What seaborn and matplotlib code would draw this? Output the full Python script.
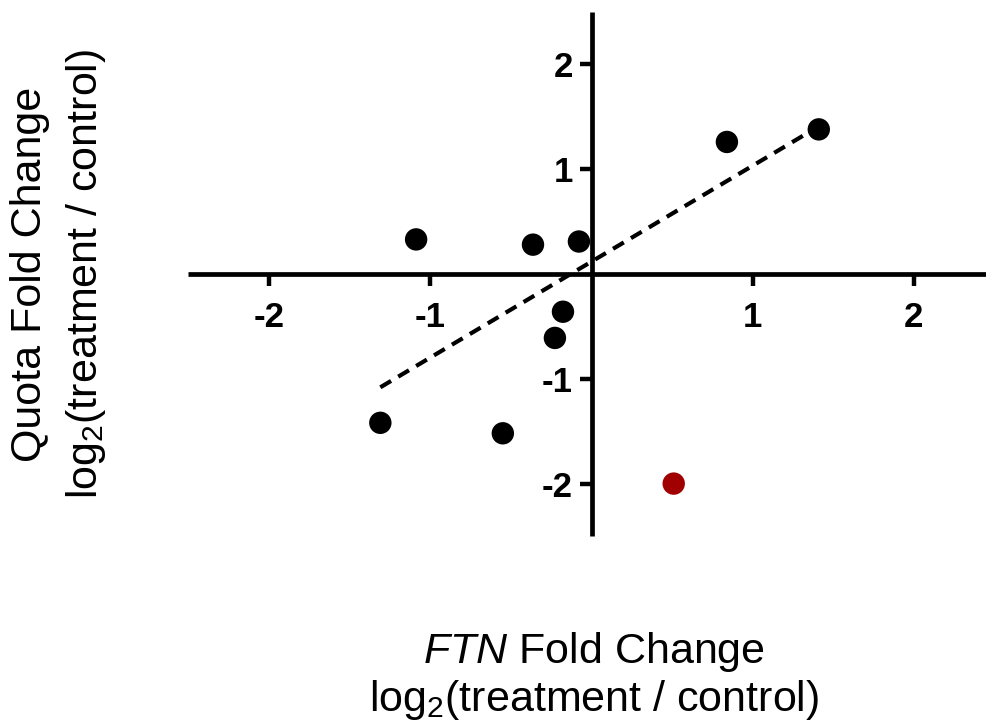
import numpy as np
import pandas as pd
import matplotlib
matplotlib.use("Agg")
import matplotlib.pyplot as plt
import seaborn as sns

# Data (log2 fold changes)
ftn_black = [-1.31, -1.088, -0.363, -0.078, -0.177, -0.227, -0.55, 0.84, 1.41]
quota_black = [-1.42, 0.33, 0.28, 0.31, -0.36, -0.61, -1.52, 1.26, 1.38]
ftn_red = [0.51]
quota_red = [-2.0]
ticks = [-2, -1, 1, 2]
tick_labels = ["-2", "-1", "1", "2"]

sns.set_theme(style="white")
plt.rcParams['font.family'] = ['Liberation Sans', 'DejaVu Sans']
plt.rcParams['mathtext.fontset'] = 'custom'
plt.rcParams['mathtext.rm'] = 'Liberation Sans'
plt.rcParams['mathtext.it'] = 'Liberation Sans:italic'
plt.rcParams['text.color'] = 'black'
plt.rcParams['xtick.color'] = 'black'
plt.rcParams['ytick.color'] = 'black'
plt.rcParams['xtick.labelcolor'] = 'black'
plt.rcParams['ytick.labelcolor'] = 'black'

df_black = pd.DataFrame({"ftn": ftn_black, "quota": quota_black})
df_red = pd.DataFrame({"ftn": ftn_red, "quota": quota_red})

fig = plt.figure(figsize=(9.86, 7.27), dpi=100)
ax = fig.add_axes([188.5 / 986, (727 - 536) / 727, 806 / 986, 524 / 727])

sns.regplot(data=df_black, x="ftn", y="quota", scatter=False, ci=None, ax=ax,
            line_kws=dict(color="black", lw=3.0, ls=(0, (3.0, 2.0))))
sns.scatterplot(data=df_black, x="ftn", y="quota", ax=ax, color="black",
                s=260, edgecolor="none", zorder=5)
sns.scatterplot(data=df_red, x="ftn", y="quota", ax=ax, color="#a00000",
                s=260, edgecolor="none", zorder=5)

ax.set_xlim(-2.5, 2.5)
ax.set_ylim(-2.5, 2.5)
ax.spines['left'].set_position(('data', 0))
ax.spines['bottom'].set_position(('data', 0))
ax.spines['right'].set_visible(False)
ax.spines['top'].set_visible(False)
for s in ['left', 'bottom']:
    ax.spines[s].set_linewidth(3.4)
    ax.spines[s].set_color('black')
    ax.spines[s].set_capstyle('butt')

ax.set_xticks(ticks)
ax.set_xticklabels(tick_labels)
ax.set_yticks(ticks)
ax.set_yticklabels(tick_labels)
ax.tick_params(axis='both', direction='out', length=8.5, width=3.2, color='black',
               labelsize=25, labelcolor='black')
ax.tick_params(axis='x', pad=11, bottom=True)
ax.tick_params(axis='y', pad=5, left=True)
for lab in ax.get_xticklabels() + ax.get_yticklabels():
    lab.set_fontweight('bold')
ax.set_xlabel("")
ax.set_ylabel("")
ax.patch.set_alpha(0)

# Axis titles
fig.text(594 / 986, 1 - 652 / 727, r"$\it{FTN}$ Fold Change", ha='center', va='center',
         fontsize=31, color='black')
fig.text(594 / 986, 1 - 700 / 727, r"log$_2$(treatment / control)", ha='center', va='center',
         fontsize=31, color='black')
fig.text(30 / 986, 1 - 274 / 727, "Quota Fold Change", ha='center', va='center',
         fontsize=31, rotation=90, color='black')
fig.text(86 / 986, 1 - 274 / 727, r"log$_2$(treatment / control)", ha='center', va='center',
         fontsize=31, rotation=90, color='black')

fig.savefig("out.png", dpi=100)
